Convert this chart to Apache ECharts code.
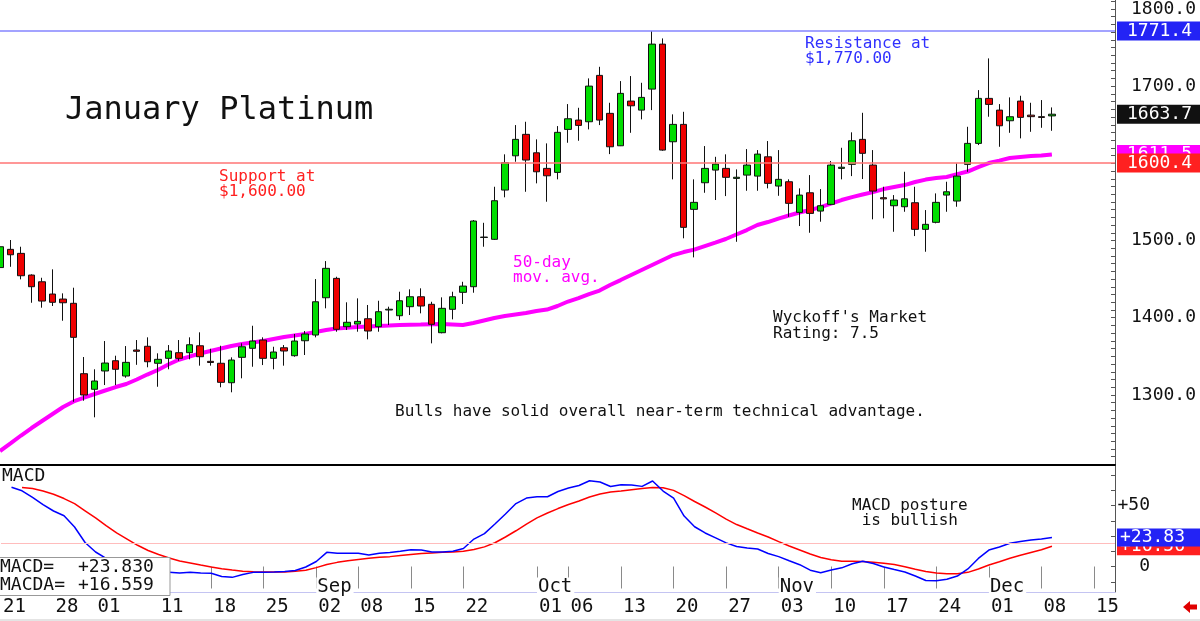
<!DOCTYPE html>
<html><head><meta charset="utf-8">
<script src="https://cdn.jsdelivr.net/npm/echarts@6/dist/echarts.min.js"></script>
<style>html,body{margin:0;padding:0;background:#fff}#c{width:1200px;height:621px}</style>
</head><body><div id="c"></div>
<script>
const dates = [
'07-21','07-22','07-23','07-24','07-25','07-28','07-29','07-30','07-31','08-01',
'08-04','08-05','08-06','08-07','08-08','08-11','08-12','08-13','08-14','08-15',
'08-18','08-19','08-20','08-21','08-22','08-25','08-26','08-27','08-28','08-29',
'09-02','09-03','09-04','09-05','09-08','09-09','09-10','09-11','09-12','09-15',
'09-16','09-17','09-18','09-19','09-22','09-23','09-24','09-25','09-26','09-29',
'09-30','10-01','10-02','10-03','10-06','10-07','10-08','10-09','10-10','10-13',
'10-14','10-15','10-16','10-17','10-20','10-21','10-22','10-23','10-24','10-27',
'10-28','10-29','10-30','10-31','11-03','11-04','11-05','11-06','11-07','11-10',
'11-11','11-12','11-13','11-14','11-17','11-18','11-19','11-20','11-21','11-24',
'11-25','11-26','11-27','11-28','12-01','12-02','12-03','12-04','12-05','12-08',
'12-09','12-10','12-11','12-12','12-15','12-16','12-17'];

const opens = [
1465,1488.6,1483.4,1455.3,1446.6,1430.7,1424.2,1418.7,1327.5,1307.3,
1331,1344.3,1324.5,1358.2,1363,1341,1347.4,1354.7,1354.7,1363.7,
1343.5,1341,1315.8,1348.7,1360.4,1371.1,1347.4,1361.1,1350.8,1370.2,
1377.6,1425.9,1451,1388.4,1391.8,1398.7,1388.4,1410,1402.6,1414.3,
1427.2,1417.4,1380.6,1410.9,1432.9,1440.2,1504,1501.6,1565.4,1609.8,
1637.6,1613.7,1593.5,1588.3,1644,1656.1,1653.9,1714,1664.8,1622.8,
1680.7,1669,1696.2,1754.5,1628,1650.5,1540.4,1574.9,1591.3,1593.5,
1580.5,1584.8,1583.5,1608.5,1570.6,1576.2,1536.5,1561.9,1538.2,1546.9,
1593.5,1598.7,1631.1,1597.8,1555.5,1545.1,1543.8,1549,1514.5,1523.6,
1558.9,1551.2,1598.7,1625.9,1684.2,1669,1655.2,1680.7,1662.5,1660.5,
1661.5];
const closes = [
1492,1481.6,1454.4,1440.2,1421.6,1420,1419.4,1374.6,1299.9,1318,
1341.3,1333.2,1342.2,1356.5,1343,1346.1,1356.9,1347.4,1365,1349.5,
1342,1316.3,1345.2,1362.4,1369.8,1347.4,1355.6,1356.9,1369.8,1378.9,
1420.7,1464,1385,1394.1,1395.3,1382.8,1407.8,1411,1422,1427.2,
1415.2,1391.5,1412.2,1427.2,1441,1525.3,1504.5,1551.6,1600.8,1631.1,
1604.3,1589.1,1583.9,1640.2,1657.8,1649.2,1700.1,1656.1,1621.5,1690.7,
1674.6,1685.5,1754.5,1617.2,1650.5,1517.1,1549.5,1593.5,1599.1,1581.9,
1582,1597.8,1612,1574.1,1579.3,1548.2,1558.9,1535.2,1545.1,1597.8,
1595,1629.3,1613,1564.1,1554,1552.5,1554.1,1514.5,1521,1549.5,
1563.2,1583.5,1625.9,1684.2,1676.4,1648.7,1660.4,1659.6,1660.5,1659.5,
1663.7];
const lows = [
1457,1466,1449.7,1419.4,1413,1415.2,1396.1,1291.2,1292.5,1271,
1312.8,1312.8,1322.3,1339,1335.8,1310.6,1333.2,1344.3,1346.1,1337.9,
1337.9,1309.9,1303.4,1321.5,1336.5,1338.7,1333.2,1337.9,1349.5,1351.7,
1374.6,1412.2,1381.9,1384.1,1381.9,1372,1381.9,1390.5,1397,1403.5,
1405.7,1366.8,1379.8,1397.9,1417.8,1432.4,1492,1500.7,1556,1602.1,
1563.2,1574.1,1550.3,1579.3,1626.7,1629.3,1644,1649.6,1612,1622.4,
1639.6,1657,1669,1616.3,1579.3,1502.9,1478.2,1561.9,1552.5,1557.6,
1498.4,1564.5,1564.5,1567.6,1558,1530.8,1518.8,1510.1,1524.4,1546,
1579.3,1583.5,1579.7,1527.5,1528.8,1511.4,1537.3,1505.8,1485.5,1522.3,
1537.3,1543.8,1589.1,1623.7,1660.4,1621.5,1639.6,1632.4,1640.9,1646.1,
1642.2];
const highs = [
1497,1500.7,1492,1456.2,1451.8,1462.7,1431.6,1438.9,1349.1,1333.2,
1369.8,1350.8,1363.3,1371.1,1374.6,1353.9,1364.6,1371.1,1374.6,1381.1,
1359.8,1363.7,1348.7,1366.9,1389.6,1374.6,1362.4,1364.6,1379,1382.8,
1450.1,1473.4,1453.1,1420,1425.1,1416.5,1422,1414.3,1433.7,1436.8,
1438.1,1420.7,1426.4,1433.7,1446.6,1526.6,1523,1569.7,1611.7,1649.6,
1653.9,1631.1,1625.9,1648.3,1676.8,1672,1710.1,1725.1,1678.5,1706.6,
1713.1,1704.4,1771.4,1761.9,1663.5,1666.8,1579.3,1622.4,1608.5,1611.7,
1592.2,1618.5,1617.2,1628.9,1617.2,1579.3,1567.6,1584.8,1566.7,1603,
1620.2,1640.2,1665.5,1617.2,1569.7,1558.9,1589.1,1569.7,1539.5,1561.1,
1576.2,1600,1647.4,1694.9,1736,1676.8,1685.5,1687.6,1678.5,1682,
1672.5];
const ma50 = [
1227.3,1237.1,1247.4,1257.1,1266.2,1275.3,1284.3,1291.5,1296.6,1301.2,
1305.7,1310.2,1314.1,1320,1326.4,1332.3,1339.4,1345.6,1349.7,1353.6,
1356.9,1360.1,1363.4,1366,1367.9,1369.8,1372.4,1375,1377,1378.9,
1381.5,1384.1,1386,1387.1,1388,1388.6,1389.3,1389.9,1390.6,1390.9,
1391.2,1391.6,1391.8,1391.2,1390.6,1393.1,1396.4,1399.6,1402.2,1404.2,
1406.1,1408.7,1410.6,1415.2,1421,1425.5,1430.7,1435.2,1442.4,1448.8,
1455.3,1461.8,1468.3,1474.8,1481.2,1485.1,1488.3,1492.9,1497.4,1502,
1507.8,1513.6,1520.1,1524,1528.5,1532.4,1536.3,1539.5,1543.4,1547.9,
1552.5,1556.3,1559.6,1562.8,1566.7,1569.3,1571.9,1575.8,1579,1581,
1582.3,1586.1,1589.4,1595.2,1600.4,1603.6,1606.9,1608.2,1609.5,1610.1,
1611.5];
const macd = [null,
65.0,62.1,56.6,50.8,45.5,41.6,32.4,19.7,11.9,6.6,
2.0,-0.8,-2.9,-3.9,-4.5,-4.8,-5.3,-4.8,-5.3,-5.6,
-8.2,-8.9,-6.6,-4.8,-4.8,-4.5,-4.1,-3.3,-0.4,4.1,
11.6,10.8,10.8,10.8,9.4,10.8,11.5,12.5,13.8,13.6,
11.9,11.9,12.5,14.8,22.5,27.0,34.8,43.0,51.6,56.1,
57.1,57.2,61.5,64.3,66.4,70.3,69.3,65.6,67.0,66.8,
65.7,70.1,61.9,56.1,41.4,32.6,27.5,23.5,19.4,16.4,
15.2,14.3,10.7,8.1,4.7,1.5,-3.0,-5.1,-2.9,-1.1,
2.2,4.3,2.4,-0.4,-2.5,-4.5,-7.8,-11.5,-11.6,-10.4,
-7.8,-2.0,6.6,13.5,16.0,19.0,20.5,21.7,22.5,23.83];
const macda = [null,null,
64.8,63.9,61.9,59.2,55.7,51.6,45.7,39.8,33.6,
27.6,22.5,17.4,13.1,9.8,7.0,4.5,2.9,1.2,-0.4,
-1.8,-2.9,-3.8,-4.3,-4.5,-4.5,-4.5,-3.9,-3.1,-0.9,
1.6,3.4,4.7,5.7,6.7,7.5,8.1,9.0,9.8,10.6,
11.1,11.6,11.9,12.5,13.9,16.1,19.5,24.2,29.3,34.8,
39.9,43.9,47.5,50.8,53.7,57.0,59.4,61.1,61.9,63.0,
64.0,64.8,64.5,62.4,58.1,53.3,48.8,44.0,38.9,34.4,
30.9,27.5,24.2,20.4,16.8,13.5,10.2,7.4,5.6,4.3,
4.3,4.1,3.5,2.6,1.6,-0.2,-2.2,-4.1,-5.3,-5.9,
-5.9,-4.8,-2.0,1.2,3.9,6.7,9.2,11.5,13.8,16.56];

const priceLabels = [1300, 1400, 1500, 1600, 1700, 1800];
const priceTicks = [1220,1230,1240,1250,1260,1270,1280,1290,1300,1310,1320,1330,1340,1350,1360,1370,1380,1390,1400,1410,1420,1430,1440,1450,1460,1470,1480,1490,1500,1510,1520,1530,1540,1550,1560,1570,1580,1590,1600,1610,1620,1630,1640,1650,1660,1670,1680,1690,1700,1710,1720,1730,1740,1750,1760,1770,1780,1790,1800,1810];
const macdLabels = [0, 50];
const macdTicks = [-12.5, 0, 12.5, 25, 37.5, 50, 62.5, 75];
const dayTickDates = ['07-21','07-28','08-01','08-11','08-18','08-25','09-02','09-08','09-15','09-22','10-01','10-06','10-13','10-20','10-27','11-03','11-10','11-17','11-24','12-01','12-08','12-15'];
const monthStarts = {'09-02':'Sep','10-01':'Oct','11-03':'Nov','12-01':'Dec'};
const resistance = 1771.4, support = 1600.4, lastClose = 1663.7, lastMA = 1611.5;
const lastMACD = 23.83, lastMACDA = 16.56, macdRefLevel = 19;

const MONO = "'DejaVu Sans Mono', 'Liberation Mono', monospace";
const candles = opens.map((o, i) => [o, closes[i], lows[i], highs[i]]);
const isDayTick = (idx, val) => dayTickDates.indexOf(val) >= 0;
const isMonth = (idx, val) => monthStarts[val] !== undefined;
const HIDDEN = 'rgba(0,0,0,0)';

function tag(value, text, bg, hide, pad) {
  const d = {
    yAxis: value,
    label: {
      show: true, position: 'end', distance: 2, formatter: text,
      color: '#fff', backgroundColor: bg, fontFamily: MONO, fontSize: 18,
      lineHeight: 18, padding: pad || [1, 8, 0, 10]
    }
  };
  if (hide) d.lineStyle = { color: HIDDEN };
  return d;
}

const chart = echarts.init(document.getElementById('c'), null, { renderer: 'canvas' });
const option = {
  animation: false,
  backgroundColor: '#ffffff',
  grid: [
    { left: -0.9, right: 85, top: 0, height: 465 },
    { left: -0.9, right: 85, top: 466, height: 126 }
  ],
  xAxis: [
    { gridIndex: 0, type: 'category', data: dates, boundaryGap: false,
      axisLine: { show: true, onZero: false, lineStyle: { color: '#000', width: 2 } },
      axisTick: { show: false }, axisLabel: { show: false }, splitLine: { show: false } },
    { gridIndex: 1, type: 'category', data: dates, boundaryGap: false, position: 'bottom',
      axisLine: { show: true, onZero: false, lineStyle: { color: '#c4c4f2', width: 1 } },
      axisTick: { show: false }, splitLine: { show: false },
      axisLabel: { inside: true, interval: isMonth, formatter: v => monthStarts[v] || '',
        margin: 5, verticalAlign: 'middle', align: 'left', backgroundColor: '#fff',
        padding: [0, 2, 0, 1], fontFamily: MONO, fontSize: 19, color: '#111' } },
    { gridIndex: 1, type: 'category', data: dates, boundaryGap: false, position: 'bottom', offset: 5,
      axisLine: { show: false },
      axisTick: { show: true, interval: isDayTick, length: 22, lineStyle: { color: '#8a8a8a' } },
      splitLine: { show: false },
      axisLabel: { interval: isDayTick, formatter: v => v.slice(3), margin: 10,
        verticalAlign: 'middle', align: 'left', padding: [0, 0, 0, 2],
        fontFamily: MONO, fontSize: 19, color: '#111' } }
  ],
  yAxis: [
    { gridIndex: 0, type: 'value', position: 'right', min: 1209.2, max: 1811.5,
      splitLine: { show: false },
      axisLine: { show: true, lineStyle: { color: '#555' } },
      axisTick: { show: true, inside: true, length: 4, customValues: priceTicks, lineStyle: { color: '#555' } },
      axisLabel: { customValues: priceLabels, formatter: v => v.toFixed(1), margin: 16,
        fontFamily: MONO, fontSize: 18, color: '#111' } },
    { gridIndex: 1, type: 'value', position: 'right', min: -20.9, max: 82.4,
      splitLine: { show: false },
      axisLine: { show: true, lineStyle: { color: '#555' } },
      axisTick: { show: true, inside: true, length: 4, customValues: macdTicks, lineStyle: { color: '#555' } },
      axisLabel: { customValues: macdLabels, formatter: v => (v > 0 ? '+' + v : String(v)),
        margin: 35, align: 'right', fontFamily: MONO, fontSize: 18, color: '#111' } }
  ],
  series: [
    { type: 'line', name: '50-day', xAxisIndex: 0, yAxisIndex: 0, data: ma50,
      showSymbol: false, symbol: 'none', lineStyle: { color: '#ff00ff', width: 4 }, z: 1,
      markLine: { silent: true, symbol: 'none', animation: false,
        lineStyle: { color: '#8585ff', width: 1.5, type: 'solid', opacity: 1 },
        emphasis: { disabled: true },
        data: [ tag(resistance, resistance.toFixed(1), '#2323f5', false) ] } },
    { type: 'candlestick', name: 'Platinum', xAxisIndex: 0, yAxisIndex: 0, data: candles,
      barWidth: 7, z: 3,
      itemStyle: { color: '#00dd00', color0: '#ee0000', borderColor: '#111', borderColor0: '#111', borderWidth: 1 },
      markLine: { silent: true, symbol: 'none', animation: false,
        lineStyle: { color: '#ff7575', width: 1.5, type: 'solid', opacity: 1 },
        emphasis: { disabled: true },
        data: [
          tag(lastClose, lastClose.toFixed(1), '#111111', true),
          tag(lastMA, lastMA.toFixed(1), '#ff00ff', true),
          tag(support, support.toFixed(1), '#ff2020', false)
        ] } },
    { type: 'line', name: 'MACDA', xAxisIndex: 1, yAxisIndex: 1, data: macda,
      showSymbol: false, symbol: 'none', lineStyle: { color: '#ff0000', width: 1.5 }, z: 2,
      markLine: { silent: true, symbol: 'none', animation: false,
        lineStyle: { color: '#ffbcbc', width: 1.2, type: 'solid', opacity: 1 },
        emphasis: { disabled: true },
        data: [ { yAxis: macdRefLevel, label: { show: false } } ] } },
    { type: 'line', name: 'MACD', xAxisIndex: 1, yAxisIndex: 1, data: macd,
      showSymbol: false, symbol: 'none', lineStyle: { color: '#0000ff', width: 1.5 }, z: 3,
      markLine: { silent: true, symbol: 'none', animation: false,
        lineStyle: { color: HIDDEN, width: 1, type: 'solid' },
        data: [
          tag(lastMACDA, '+' + lastMACDA.toFixed(2), '#ff2020', true, [0, 16, 0, 3]),
          tag(lastMACD, '+' + lastMACD.toFixed(2), '#2323f5', true, [0, 16, 0, 3])
        ] } }
  ],
  graphic: [
    { type: 'text', x: 65, y: 111, z: 100, style: { text: 'January Platinum', font: '32px ' + MONO, fill: '#111', verticalAlign: 'middle' } },
    { type: 'text', x: 805, y: 44, z: 100, style: { text: 'Resistance at', font: '16px ' + MONO, fill: '#3030ff', verticalAlign: 'middle' } },
    { type: 'text', x: 805, y: 59, z: 100, style: { text: '$1,770.00', font: '16px ' + MONO, fill: '#3030ff', verticalAlign: 'middle' } },
    { type: 'text', x: 219, y: 177, z: 100, style: { text: 'Support at', font: '16px ' + MONO, fill: '#ff2020', verticalAlign: 'middle' } },
    { type: 'text', x: 219, y: 192, z: 100, style: { text: '$1,600.00', font: '16px ' + MONO, fill: '#ff2020', verticalAlign: 'middle' } },
    { type: 'text', x: 513, y: 263, z: 100, style: { text: '50-day', font: '16px ' + MONO, fill: '#ff00ff', verticalAlign: 'middle' } },
    { type: 'text', x: 513, y: 278, z: 100, style: { text: 'mov. avg.', font: '16px ' + MONO, fill: '#ff00ff', verticalAlign: 'middle' } },
    { type: 'text', x: 773, y: 318, z: 100, style: { text: "Wyckoff's Market", font: '16px ' + MONO, fill: '#111', verticalAlign: 'middle' } },
    { type: 'text', x: 773, y: 334, z: 100, style: { text: 'Rating: 7.5', font: '16px ' + MONO, fill: '#111', verticalAlign: 'middle' } },
    { type: 'text', x: 395, y: 412, z: 100, style: { text: 'Bulls have solid overall near-term technical advantage.', font: '16px ' + MONO, fill: '#111', verticalAlign: 'middle' } },
    { type: 'text', x: 2, y: 476, z: 100, style: { text: 'MACD', font: '18px ' + MONO, fill: '#111', verticalAlign: 'middle' } },
    { type: 'text', x: 852, y: 506, z: 100, style: { text: 'MACD posture', font: '16px ' + MONO, fill: '#111', verticalAlign: 'middle' } },
    { type: 'text', x: 852, y: 521, z: 100, style: { text: ' is bullish', font: '16px ' + MONO, fill: '#111', verticalAlign: 'middle' } },
    { type: 'rect', z: 100, shape: { x: -1, y: 557.5, width: 171, height: 38 }, style: { fill: '#fff', stroke: '#999', lineWidth: 1 } },
    { type: 'text', x: 0, y: 567, z: 101, style: { text: 'MACD=', font: '18px ' + MONO, fill: '#111', verticalAlign: 'middle' } },
    { type: 'text', x: 78, y: 567, z: 101, style: { text: '+23.830', font: '18px ' + MONO, fill: '#111', verticalAlign: 'middle' } },
    { type: 'text', x: 0, y: 585, z: 101, style: { text: 'MACDA=', font: '18px ' + MONO, fill: '#111', verticalAlign: 'middle' } },
    { type: 'text', x: 78, y: 585, z: 101, style: { text: '+16.559', font: '18px ' + MONO, fill: '#111', verticalAlign: 'middle' } },
    { type: 'rect', z: 100, shape: { x: 0, y: 619, width: 1200, height: 2 }, style: { fill: '#e4e4e4' } },
    { type: 'polygon', z: 100, shape: { points: [[1183, 607], [1190, 601], [1190, 604.5], [1197, 604.5], [1197, 609.5], [1190, 609.5], [1190, 613]] }, style: { fill: '#e00000' } }
  ]
};
chart.setOption(option);
</script></body></html>
